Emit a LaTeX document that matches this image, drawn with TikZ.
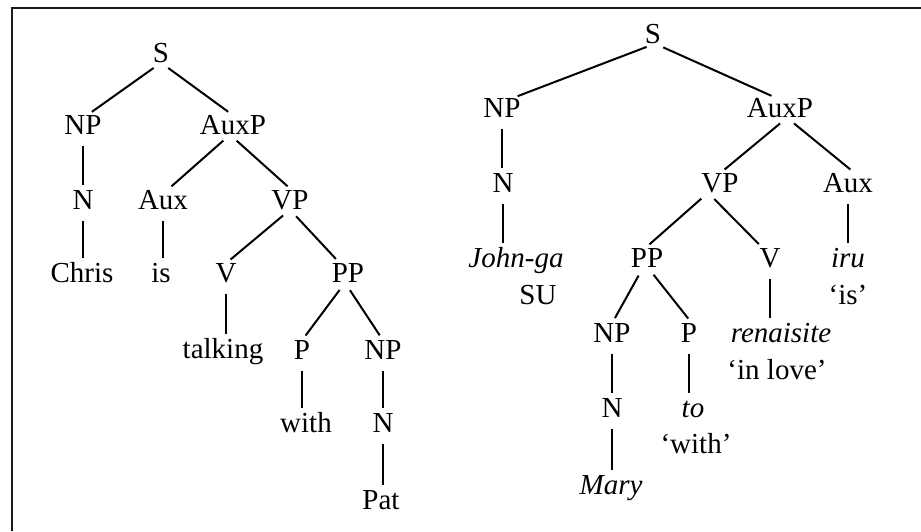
\documentclass[tikz,border=0pt]{standalone}
\usepackage{fontspec}
\setmainfont{Liberation Serif}
\begin{document}
\begin{tikzpicture}[x=1pt,y=-1pt,
  lab/.style={font=\fontsize{29}{35}\selectfont, inner sep=0pt, text height=19pt, text depth=0pt, anchor=base},
  itl/.style={lab, font=\fontsize{29}{35}\selectfont\itshape},
  edge/.style={line width=2pt, shorten <=9pt, shorten >=6pt},
  vedge/.style={line width=2pt, shorten <=11pt, shorten >=5pt},
  frameline/.style={line width=2.2pt, draw=black!90}]
\useasboundingbox (0,0) rectangle (921,531);
\coordinate (fa) at (12,531);
\coordinate (fb) at (12,8);
\coordinate (fc) at (921,8);
\draw[frameline] (fa) -- (fb) -- (fc);

% left tree
\node[lab] (S1) at (161,62.5) {S};
\node[lab] (NP1) at (83,134.5) {NP};
\node[lab] (AuxP1) at (233,134.5) {AuxP};
\node[lab] (N1) at (83,209.5) {N};
\node[lab] (Aux1) at (163,209.5) {Aux};
\node[lab] (VP1) at (290,209.5) {VP};
\node[lab] (Chris) at (82,282.5) {Chris};
\node[lab] (is1) at (161,282.5) {is};
\node[lab] (V1) at (226,282.5) {V};
\node[lab] (PP1) at (348,282.5) {PP};
\node[lab] (talking) at (223,358) {talking};
\node[lab] (P1) at (302,359.5) {P};
\node[lab] (NP2) at (383,359.5) {NP};
\node[lab] (with1) at (306,432.5) {with};
\node[lab] (N2) at (383,432.5) {N};
\node[lab] (Pat) at (381,509.5) {Pat};

\draw[edge] (S1.south) -- ([xshift=4pt]NP1.north);
\draw[edge] (S1.south) -- (AuxP1.north);
\draw[vedge] (NP1.south) -- (NP1.south |- N1.north);
\draw[vedge] (N1.south) -- (N1.south |- Chris.north);
\draw[edge] ([xshift=-3pt]AuxP1.south) -- ([xshift=4pt]Aux1.north);
\draw[edge] ([xshift=-3pt]AuxP1.south) -- ([xshift=2pt]VP1.north);
\draw[vedge] (Aux1.south) -- (Aux1.south |- is1.north);
\draw[edge] (VP1.south) -- (V1.north);
\draw[edge] (VP1.south) -- ([xshift=-8pt]PP1.north);
\draw[vedge] (V1.south) -- (V1.south |- talking.north);
\draw[edge] ([xshift=-3pt]PP1.south) -- (P1.north);
\draw[edge] ([xshift=-3pt]PP1.south) -- (NP2.north);
\draw[vedge] (P1.south) -- (P1.south |- with1.north);
\draw[vedge] (NP2.south) -- (NP2.south |- N2.north);
\draw[vedge] (N2.south) -- (N2.south |- Pat.north);

% right tree
\node[lab] (S2) at (653,43.5) {S};
\node[lab] (NP3) at (502,117.5) {NP};
\node[lab] (AuxP2) at (780,117.5) {AuxP};
\node[lab] (N3) at (503,192.5) {N};
\node[lab] (VP2) at (720,192.5) {VP};
\node[lab] (Aux2) at (848,192.5) {Aux};
\node[itl] (John) at (516,267.5) {John-ga};
\node[lab] (PP2) at (647,267.5) {PP};
\node[lab] (V2) at (770,267.5) {V};
\node[itl] (iru) at (848,267.5) {iru};
\node[lab] (SU) at (538,304.5) {SU};
\node[lab] (isg) at (848,304.5) {‘is’};
\node[lab] (NP4) at (612,342.5) {NP};
\node[lab] (P2) at (689,342.5) {P};
\node[itl] (ren) at (781,342.5) {renaisite};
\node[lab] (inlove) at (777,379.5) {‘in love’};
\node[lab] (N4) at (612,417.5) {N};
\node[itl] (to) at (693,417.5) {to};
\node[lab] (withg) at (696,453) {‘with’};
\node[itl] (Mary) at (611,494.5) {Mary};

\draw[edge] ([xshift=2pt]S2.south) -- ([xshift=10pt]NP3.north);
\draw[edge] ([xshift=2pt]S2.south) -- ([xshift=-3pt]AuxP2.north);
\draw[vedge] (NP3.south) -- (NP3.south |- N3.north);
\draw[vedge] (N3.south) -- (N3.south |- John.north);
\draw[edge] ([xshift=7pt]AuxP2.south) -- (VP2.north);
\draw[edge] ([xshift=7pt]AuxP2.south) -- ([xshift=7pt]Aux2.north);
\draw[edge] ([xshift=-12pt]VP2.south) -- ([xshift=-2pt]PP2.north);
\draw[edge] ([xshift=-12pt]VP2.south) -- ([xshift=-7pt]V2.north);
\draw[vedge] (Aux2.south) -- (Aux2.south |- iru.north);
\draw[vedge] (V2.south) -- (V2.south |- ren.north);
\draw[edge] ([xshift=-4pt]PP2.south) -- (NP4.north);
\draw[edge] ([xshift=1pt]PP2.south) -- ([xshift=3pt]P2.north);
\draw[vedge] (NP4.south) -- (NP4.south |- N4.north);
\draw[vedge] (P2.south) -- (P2.south |- to.north);
\draw[vedge] (N4.south) -- (N4.south |- Mary.north);
\end{tikzpicture}
\end{document}
